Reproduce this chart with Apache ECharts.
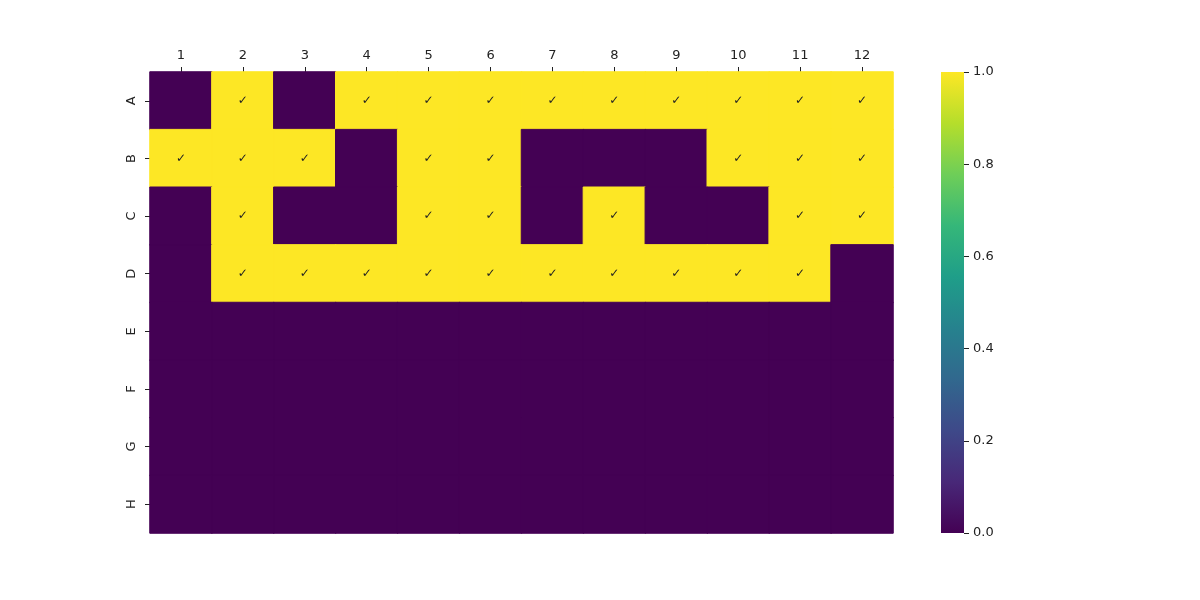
<!DOCTYPE html>
<html>
<head>
<meta charset="utf-8">
<script src="https://cdn.jsdelivr.net/npm/echarts@6/dist/echarts.min.js"></script>
<style>html,body{margin:0;padding:0;background:#fff}#c{width:1200px;height:600px}</style>
</head>
<body>
<div id="c"></div>
<script>
const columns = ['1','2','3','4','5','6','7','8','9','10','11','12'];
const rows = ['A','B','C','D','E','F','G','H'];
const rowA = [0,1,0,1,1,1,1,1,1,1,1,1];
const rowB = [1,1,1,0,1,1,0,0,0,1,1,1];
const rowC = [0,1,0,0,1,1,0,1,0,0,1,1];
const rowD = [0,1,1,1,1,1,1,1,1,1,1,0];
const rowE = [0,0,0,0,0,0,0,0,0,0,0,0];
const rowF = [0,0,0,0,0,0,0,0,0,0,0,0];
const rowG = [0,0,0,0,0,0,0,0,0,0,0,0];
const rowH = [0,0,0,0,0,0,0,0,0,0,0,0];
const colorbarTicks = [0, 0.2, 0.4, 0.6, 0.8, 1.0];

const viridis = ['#440154','#482878','#3e4989','#31688e','#26828e','#1f9e89','#35b779','#6ece58','#b5de2b','#fde725'];
const font = 'DejaVu Sans';

const matrix = [rowA,rowB,rowC,rowD,rowE,rowF,rowG,rowH];
const data = [];
matrix.forEach((r, yi) => r.forEach((v, xi) => data.push({
  value: [xi, yi, v],
  itemStyle: {borderWidth: 1, borderColor: v === 1 ? viridis[viridis.length - 1] : viridis[0]}
})));

const gradient = new echarts.graphic.LinearGradient(0, 1, 0, 0,
  viridis.map((c, i) => ({offset: i / (viridis.length - 1), color: c})));

const chart = echarts.init(document.getElementById('c'), null, {renderer:'canvas'});
chart.setOption({
  animation: false,
  backgroundColor: '#ffffff',
  textStyle: {fontFamily: font},
  grid: [
    {left: 150, top: 72, width: 743, height: 461},
    {left: 941, top: 72, width: 23, height: 461, show: true, borderWidth: 0, backgroundColor: gradient}
  ],
  xAxis: [
    {type: 'category', data: columns, position: 'top', gridIndex: 0,
     axisLine: {show: false},
     axisTick: {show: true, alignWithLabel: true, length: 5, lineStyle: {color: '#222'}},
     axisLabel: {color: '#222', fontSize: 13, margin: 10, fontFamily: font},
     splitLine: {show: false}},
    {type: 'value', gridIndex: 1, show: false, min: 0, max: 1}
  ],
  yAxis: [
    {type: 'category', data: rows, inverse: true, gridIndex: 0,
     axisLine: {show: false},
     axisTick: {show: true, alignWithLabel: true, length: 5, lineStyle: {color: '#222'}},
     axisLabel: {color: '#222', fontSize: 13, margin: 12, rotate: 90, fontFamily: font},
     splitLine: {show: false}},
    {type: 'value', gridIndex: 1, position: 'right', min: 0, max: 1, interval: 0.2,
     axisLine: {show: false, onZero: false},
     axisTick: {show: true, length: 5, lineStyle: {color: '#222'}},
     axisLabel: {color: '#222', fontSize: 13, margin: 9, fontFamily: font,
                 formatter: v => colorbarTicks.some(t => Math.abs(t - v) < 1e-9) ? v.toFixed(1) : ''},
     splitLine: {show: false}}
  ],
  visualMap: {
    type: 'continuous', min: 0, max: 1, show: false, seriesIndex: 0,
    inRange: {color: viridis}
  },
  series: [{
    type: 'heatmap', xAxisIndex: 0, yAxisIndex: 0, data: data,
    label: {show: true, color: '#222', fontSize: 12, fontFamily: font,
            formatter: p => p.value[2] === 1 ? '✓' : ''},
    emphasis: {disabled: true}
  }]
});
</script>
</body>
</html>
